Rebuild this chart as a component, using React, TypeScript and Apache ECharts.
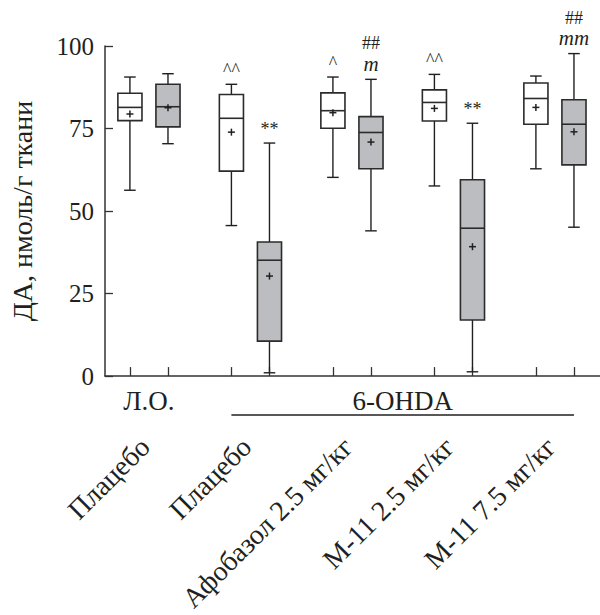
import React, { useEffect, useRef } from 'react';
import * as echarts from 'echarts';

// Categories (pairs: white = left box, gray = right box)
const groupNames = ['Плацебо', 'Плацебо', 'Афобазол 2.5 мг/кг', 'М-11 2.5 мг/кг', 'М-11 7.5 мг/кг'];
const groupPositions = [1, 2, 3, 4, 5];
const yTicks = [0, 25, 50, 75, 100];

// White boxes
const whiteMin = [56.3, 45.6, 60.2, 57.6, 62.8];
const whiteQ1 = [77.4, 62.1, 75.1, 77.3, 76.3];
const whiteMedian = [81.4, 78.1, 80.4, 82.9, 84.1];
const whiteQ3 = [85.7, 85.3, 85.8, 86.7, 88.8];
const whiteMax = [90.6, 88.4, 90.6, 91.4, 90.9];
const whiteMean = [79.4, 73.9, 79.8, 81.1, 81.4];
const whiteMarks = ['', '^^', '^', '^^', ''];

// Gray boxes
const grayMin = [70.4, 1.0, 44.0, 1.3, 45.1];
const grayQ1 = [75.5, 10.6, 62.8, 17.0, 64.0];
const grayMedian = [81.6, 35.1, 73.8, 44.8, 76.3];
const grayQ3 = [88.4, 40.6, 78.6, 59.5, 83.7];
const grayMax = [91.6, 70.6, 89.9, 76.6, 97.7];
const grayMean = [81.3, 30.3, 70.9, 39.2, 74.0];
const grayMarks = ['', '**', '##\nm', '**', '##\nmm'];

// Group headers below the axis
const headerTexts = ['Л.О.', '6-OHDA'];
const headerFrom = [0, 1];
const headerTo = [0, 4];
const headerUnderline = [false, true];

const FONT = 'Liberation Serif';
const INK = '#231f20';
const GRAY = '#bcbdc0';
const HALF = 0.1875;
const LABEL_SHIFT = -0.04;

function buildData(mins: number[], q1: number[], med: number[], q3: number[], max: number[], mean: number[], side: number) {
  return groupPositions.map((p, i) => [p + side * HALF, mins[i], q1[i], med[i], q3[i], max[i], mean[i]]);
}

function makeRender(fill: string, marks: string[]) {
  return (params: any, api: any) => {
    const x = api.value(0);
    const pMin = api.coord([x, api.value(1)]);
    const pQ1 = api.coord([x, api.value(2)]);
    const pMed = api.coord([x, api.value(3)]);
    const pQ3 = api.coord([x, api.value(4)]);
    const pMax = api.coord([x, api.value(5)]);
    const pMean = api.coord([x, api.value(6)]);
    const cx = pMin[0];
    const w = api.size([0.2375, 0])[0];
    const cap = w * 0.24;
    const lineStyle = { stroke: INK, lineWidth: 1.4 };
    const children: any[] = [
      { type: 'line', shape: { x1: cx, y1: pMin[1], x2: cx, y2: pMax[1] }, style: lineStyle },
      { type: 'line', shape: { x1: cx - cap, y1: pMin[1], x2: cx + cap, y2: pMin[1] }, style: lineStyle },
      { type: 'line', shape: { x1: cx - cap, y1: pMax[1], x2: cx + cap, y2: pMax[1] }, style: lineStyle },
      { type: 'rect', shape: { x: cx - w / 2, y: pQ3[1], width: w, height: pQ1[1] - pQ3[1] }, style: { fill, stroke: '#2b2b2b', lineWidth: 1.6 } },
      { type: 'line', shape: { x1: cx - w / 2, y1: pMed[1], x2: cx + w / 2, y2: pMed[1] }, style: { stroke: '#2b2b2b', lineWidth: 1.6 } },
      { type: 'line', shape: { x1: cx - 3.5, y1: pMean[1], x2: cx + 3.5, y2: pMean[1] }, style: { stroke: INK, lineWidth: 1.5 } },
      { type: 'line', shape: { x1: cx, y1: pMean[1] - 3.5, x2: cx, y2: pMean[1] + 3.5 }, style: { stroke: INK, lineWidth: 1.5 } },
    ];
    const mark = marks[params.dataIndex];
    if (mark) {
      const lines = mark.split('\n').reverse();
      let y = pMax[1] - 5;
      lines.forEach((ln) => {
        const italic = /^[a-z]+$/.test(ln);
        children.push({
          type: 'text',
          style: {
            text: ln,
            x: cx,
            y,
            align: 'center',
            verticalAlign: 'bottom',
            fill: INK,
            fontFamily: FONT,
            fontSize: italic ? 21 : 18,
            fontStyle: italic ? 'italic' : 'normal',
          },
        });
        y -= 22;
      });
    }
    return { type: 'group', children };
  };
}

export default function App() {
  const ref = useRef<HTMLDivElement>(null);
  useEffect(() => {
    if (!ref.current) return;
    const chart = echarts.init(ref.current, undefined, { renderer: 'svg' });
    const boxPositions: number[] = [];
    groupPositions.forEach((p) => { boxPositions.push(p - HALF, p + HALF); });
    const labelPositions = groupPositions.map((p) => p + LABEL_SHIFT);
    chart.setOption({
      animation: false,
      backgroundColor: '#fff',
      grid: { left: 93, right: 0, top: 46, bottom: 230.7 },
      xAxis: {
        type: 'value',
        min: 0.567,
        max: 5.444,
        splitLine: { show: false },
        axisLine: { show: true, lineStyle: { color: '#333', width: 1.5 } },
        axisTick: { show: true, inside: true, length: 9, customValues: boxPositions, lineStyle: { color: '#333', width: 1.3 } },
        axisLabel: {
          customValues: labelPositions,
          rotate: 45,
          margin: 66,
          fontFamily: FONT,
          fontSize: 28,
          color: INK,
          formatter: (v: number) => {
            const i = labelPositions.findIndex((q) => Math.abs(q - v) < 0.01);
            return i >= 0 ? groupNames[i] : '';
          },
        },
      },
      yAxis: {
        type: 'value',
        min: yTicks[0],
        max: yTicks[yTicks.length - 1],
        interval: 25,
        splitLine: { show: false },
        axisLine: { show: true, lineStyle: { color: '#333', width: 1.5 } },
        axisTick: { show: true, inside: true, length: 8, lineStyle: { color: '#333', width: 1.3 } },
        axisLabel: { fontFamily: FONT, fontSize: 25, color: INK, margin: 11 },
        name: 'ДА, нмоль/г ткани',
        nameLocation: 'middle',
        nameRotate: 90,
        nameGap: 69,
        nameTextStyle: { fontFamily: FONT, fontSize: 28, color: INK },
      },
      series: [
        {
          type: 'custom',
          name: 'white',
          data: buildData(whiteMin, whiteQ1, whiteMedian, whiteQ3, whiteMax, whiteMean, -1),
          encode: { x: 0, y: [1, 2, 3, 4, 5, 6] },
          renderItem: makeRender('#ffffff', whiteMarks),
          clip: false,
        },
        {
          type: 'custom',
          name: 'gray',
          data: buildData(grayMin, grayQ1, grayMedian, grayQ3, grayMax, grayMean, 1),
          encode: { x: 0, y: [1, 2, 3, 4, 5, 6] },
          renderItem: makeRender(GRAY, grayMarks),
          clip: false,
        },
      ],
    });
    const graphics: any[] = [];
    headerTexts.forEach((t, k) => {
      const a = headerFrom[k] === headerTo[k]
        ? groupPositions[headerFrom[k]]
        : groupPositions[headerFrom[k]] - HALF;
      const b = headerFrom[k] === headerTo[k]
        ? groupPositions[headerTo[k]]
        : groupPositions[headerTo[k]] + HALF;
      const pa = chart.convertToPixel({ xAxisIndex: 0, yAxisIndex: 0 }, [a, 0]) as number[];
      const pb = chart.convertToPixel({ xAxisIndex: 0, yAxisIndex: 0 }, [b, 0]) as number[];
      graphics.push({
        type: 'text',
        x: (pa[0] + pb[0]) / 2,
        y: pa[1] + 25,
        style: { text: t, fontFamily: FONT, fontSize: 27, fill: INK, align: 'center', verticalAlign: 'middle' },
      });
      if (headerUnderline[k]) {
        graphics.push({
          type: 'line',
          shape: { x1: pa[0], y1: pa[1] + 39, x2: pb[0], y2: pa[1] + 39 },
          style: { stroke: INK, lineWidth: 1.5 },
        });
      }
    });
    chart.setOption({ graphic: graphics });
    return () => chart.dispose();
  }, []);
  return (
    <div
      ref={ref}
      style={{ position: 'fixed', left: 0, top: 0, width: 600, height: 615, overflow: 'hidden' }}
    />
  );
}
